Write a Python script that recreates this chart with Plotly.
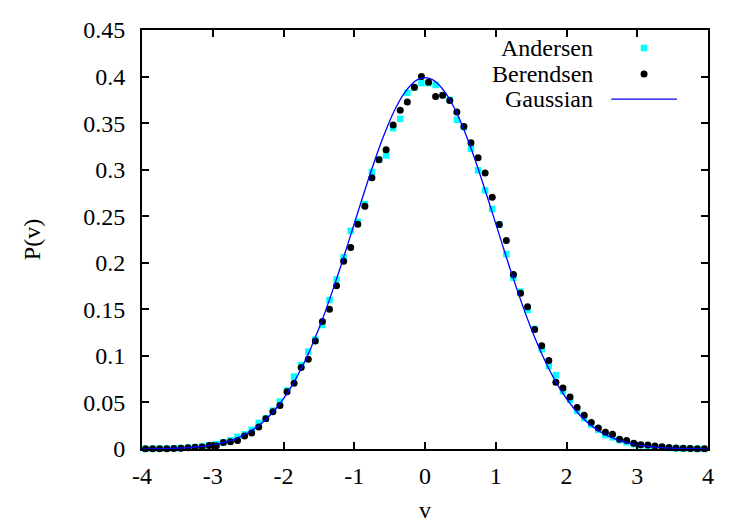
import plotly.graph_objects as go

# ---- data ----
v_bins = [round(-3.95 + 0.1 * i, 2) for i in range(80)]

andersen = [
    0.0001, 0.0002, 0.0004, 0.0005, 0.0008, 0.0010, 0.0015, 0.0020, 0.0028, 0.0040,
    0.0052, 0.0072, 0.0094, 0.0130, 0.0158, 0.0207, 0.0280, 0.0330, 0.0412, 0.0510,
    0.0628, 0.0778, 0.0900, 0.1046, 0.1175, 0.1332, 0.1600, 0.1821, 0.2060, 0.2343,
    0.2440, 0.2630, 0.2975, 0.3110, 0.3153, 0.3446, 0.3546, 0.3825, 0.3880, 0.3930,
    0.3930, 0.3910, 0.3800, 0.3750, 0.3536, 0.3457, 0.3225, 0.2993, 0.2778, 0.2578,
    0.2410, 0.2093, 0.1840, 0.1690, 0.1493, 0.1290, 0.1071, 0.0890, 0.0793, 0.0620,
    0.0528, 0.0410, 0.0330, 0.0262, 0.0205, 0.0150, 0.0125, 0.0095, 0.0072, 0.0052,
    0.0040, 0.0030, 0.0021, 0.0015, 0.0011, 0.0008, 0.0005, 0.0004, 0.0002, 0.0001,
]

berendsen = [
    0.0003, 0.0003, 0.0003, 0.0004, 0.0005, 0.0008, 0.0014, 0.0020, 0.0022, 0.0038,
    0.0035, 0.0070, 0.0078, 0.0092, 0.0140, 0.0171, 0.0236, 0.0325, 0.0400, 0.0466,
    0.0615, 0.0707, 0.0875, 0.0965, 0.1160, 0.1370, 0.1500, 0.1753, 0.2017, 0.2164,
    0.2414, 0.2607, 0.2914, 0.3107, 0.3214, 0.3480, 0.3639, 0.3728, 0.3885, 0.4000,
    0.3940, 0.3786, 0.3800, 0.3743, 0.3618, 0.3464, 0.3290, 0.3128, 0.2964, 0.2703,
    0.2410, 0.2240, 0.1875, 0.1672, 0.1528, 0.1283, 0.1108, 0.0950, 0.0718, 0.0655,
    0.0558, 0.0446, 0.0362, 0.0285, 0.0225, 0.0180, 0.0158, 0.0106, 0.0092, 0.0062,
    0.0046, 0.0042, 0.0032, 0.0025, 0.0016, 0.0012, 0.0008, 0.0006, 0.0004, 0.0003,
]

gauss_x = [round(-4.0 + 0.1 * i, 1) for i in range(81)]
gauss_half = [
    0.3989, 0.3970, 0.3910, 0.3814, 0.3683, 0.3521, 0.3332, 0.3123, 0.2897, 0.2661,
    0.2420, 0.2179, 0.1942, 0.1714, 0.1497, 0.1295, 0.1109, 0.0940, 0.0790, 0.0656,
    0.0540, 0.0440, 0.0355, 0.0283, 0.0224, 0.0175, 0.0136, 0.0104, 0.0079, 0.0060,
    0.0044, 0.0033, 0.0024, 0.0017, 0.0012, 0.0009, 0.0006, 0.0004, 0.0003, 0.0002,
    0.0001,
]
gauss_y = gauss_half[::-1] + gauss_half[1:]

x_ticks = [-4, -3, -2, -1, 0, 1, 2, 3, 4]
y_ticks = [0, 0.05, 0.1, 0.15, 0.2, 0.25, 0.3, 0.35, 0.4, 0.45]
y_tick_labels = ["0", "0.05", "0.1", "0.15", "0.2", "0.25", "0.3", "0.35", "0.4", "0.45"]
legend_names = ["Andersen", "Berendsen", "Gaussian"]
x_title = "v"
y_title = "P(v)"

CYAN = "#00ffff"
BLACK = "#000000"
BLUE = "#0000ff"
FONT = "Liberation Serif, Times New Roman, DejaVu Serif, serif"

fig = go.Figure()
fig.add_trace(go.Scatter(x=v_bins, y=andersen, mode="markers", name=legend_names[0],
                         marker=dict(symbol="square", size=6.5, color=CYAN),
                         cliponaxis=False, showlegend=False))
fig.add_trace(go.Scatter(x=v_bins, y=berendsen, mode="markers", name=legend_names[1],
                         marker=dict(symbol="circle", size=7, color=BLACK),
                         cliponaxis=False, showlegend=False))
fig.add_trace(go.Scatter(x=gauss_x, y=gauss_y, mode="lines", name=legend_names[2],
                         line=dict(color=BLUE, width=1.3, shape="spline"),
                         showlegend=False))

# manual gnuplot-style legend: text right-aligned, sample to the right
text_x = 0.800
sample_x = 0.887
rows_y = [0.957, 0.895, 0.835]
for name, yy in zip(legend_names, rows_y):
    fig.add_annotation(x=text_x, y=yy, xref="paper", yref="paper", text=name,
                       showarrow=False, xanchor="right", yanchor="middle",
                       font=dict(family=FONT, size=24, color="black"))
fig.add_shape(type="rect", xref="paper", yref="paper", xsizemode="pixel", ysizemode="pixel",
              xanchor=sample_x, yanchor=rows_y[0], x0=-3.3, x1=3.3, y0=-3.3, y1=3.3,
              fillcolor=CYAN, line=dict(width=0))
fig.add_shape(type="circle", xref="paper", yref="paper", xsizemode="pixel", ysizemode="pixel",
              xanchor=sample_x, yanchor=rows_y[1], x0=-3.5, x1=3.5, y0=-3.5, y1=3.5,
              fillcolor=BLACK, line=dict(width=0))
fig.add_shape(type="line", xref="paper", yref="paper",
              x0=0.829, x1=0.945, y0=rows_y[2], y1=rows_y[2],
              line=dict(color=BLUE, width=1.3))

# x axis title
fig.add_annotation(x=0.5, y=-0.145, xref="paper", yref="paper", text=x_title,
                   showarrow=False, xanchor="center", yanchor="middle",
                   font=dict(family=FONT, size=24, color="black"))

axis_common = dict(showline=True, linecolor="black", linewidth=2, mirror="ticks",
                   ticks="inside", ticklen=7, tickwidth=1.5, tickcolor="black",
                   showgrid=False, zeroline=False,
                   tickfont=dict(family=FONT, size=24, color="black"))

fig.update_xaxes(range=[-4, 4], tickvals=x_ticks, ticktext=[str(t) for t in x_ticks],
                 ticklabelstandoff=4, **axis_common)
fig.update_yaxes(range=[0, 0.45], tickvals=y_ticks, ticktext=y_tick_labels,
                 ticklabelstandoff=10,
                 title=dict(text=y_title, font=dict(family=FONT, size=24, color="black"), standoff=36),
                 **axis_common)

fig.update_layout(width=750, height=525, margin=dict(l=142, r=42, t=30, b=76, autoexpand=False),
                  plot_bgcolor="white", paper_bgcolor="white",
                  font=dict(family=FONT, size=24, color="black"))

fig.write_html("out.html")
